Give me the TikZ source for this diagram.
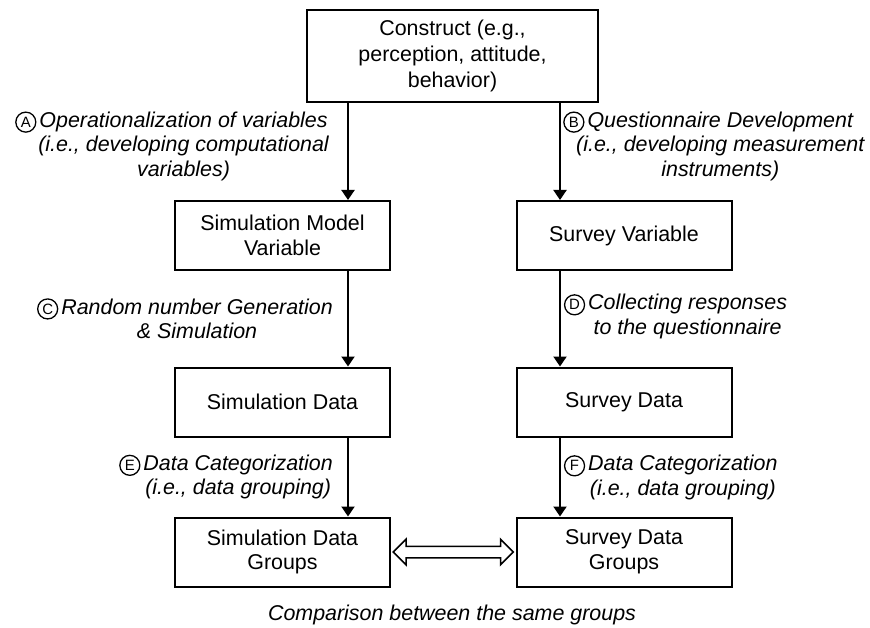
\documentclass[tikz,border=0pt]{standalone}
\usepackage{fontspec}
\setmainfont{Liberation Sans}
\usetikzlibrary{arrows.meta,positioning,shapes.arrows,calc}

% circled step letter, hung to the left of the label text
\newcommand{\stepmark}[1]{\llap{\tikz[baseline=(m.base)]\node[circle,draw,line width=1.3bp,minimum size=20bp,inner sep=0pt,font=\fontsize{15}{15}\selectfont\upshape] (m) {#1};\hspace{3bp}}}

\begin{document}
\begin{tikzpicture}[%
    x=1bp, y=-1bp,
    >={Triangle[width=13bp,length=10bp]},
    on grid,
    stage/.style={draw, line width=2bp, minimum width=215bp, minimum height=69bp,
      inner sep=0pt, align=center, font=\fontsize{21.5}{25}\selectfont},
    flow/.style={->, line width=2bp},
    note/.style={align=center, inner sep=0pt, font=\fontsize{21.5}{24.5}\selectfont\itshape}
    ]
    \useasboundingbox (0,0) rectangle (870,628);

    \node[stage, minimum width=291bp, minimum height=92bp,
      font=\fontsize{21.5}{26}\selectfont] (construct) at (452.5,56)
      {Construct (e.g.,\\ perception, attitude,\\ behavior)};

    \node[stage] (smv) at (282.5,235.5) {Simulation Model\\ Variable};
    \node[stage] (sv)   [right=341.5bp of smv] {Survey Variable};
    \node[stage] (sd)   [below=166.5bp of smv] {Simulation Data};
    \node[stage] (sdat) [below=166.5bp of sv]  {Survey Data};
    \node[stage] (sdg)  [below=150bp of sd]    {Simulation Data\\ Groups};
    \node[stage] (svg)  [below=150bp of sdat]  {Survey Data\\ Groups};

    % simulation side
    \draw[flow] ([xshift=65.5bp]smv.north |- construct.south) -- ([xshift=65.5bp]smv.north);
    \draw[flow] ([xshift=65.5bp]smv.south) -- ([xshift=65.5bp]sd.north);
    \draw[flow] ([xshift=65.5bp]sd.south) -- ([xshift=65.5bp]sdg.north);
    % survey side
    \draw[flow] ([xshift=-64bp]sv.north |- construct.south) -- ([xshift=-64bp]sv.north);
    \draw[flow] ([xshift=-64bp]sv.south) -- ([xshift=-64bp]sdat.north);
    \draw[flow] ([xshift=-64bp]sdat.south) -- ([xshift=-64bp]svg.north);

    % comparison arrow
    \node[double arrow, draw, line width=1.5bp, inner sep=5bp, minimum height=120bp,
      double arrow head extend=7bp] (cmparrow) at ($(sdg.east)!0.5!(svg.west)$) {};

    \node[note, anchor=east] (opA) at (329,146) {\stepmark{A}Operationalization of variables\\
      (i.e., developing computational\\ variables)};
    \node[note, anchor=west] (opB) at (576,146) {\stepmark{B}Questionnaire Development\\
      (i.e., developing measurement\\ instruments)};
    \node[note, anchor=east] (opC) at (333,318.5) {\stepmark{C}Random number Generation\\
      \& Simulation};
    \node[note, anchor=west] (opD) at (588,316.5) {\stepmark{D}Collecting responses\\
      to the questionnaire};
    \node[note, anchor=east] (opE) at (333,477) {\stepmark{E}Data Categorization\\
      (i.e., data grouping)};
    \node[note, anchor=west] (opF) at (588,477.5) {\stepmark{F}Data Categorization\\
      (i.e., data grouping)};

    \node[note] (cmp) at (452,615) {Comparison between the same groups};
\end{tikzpicture}
\end{document}
